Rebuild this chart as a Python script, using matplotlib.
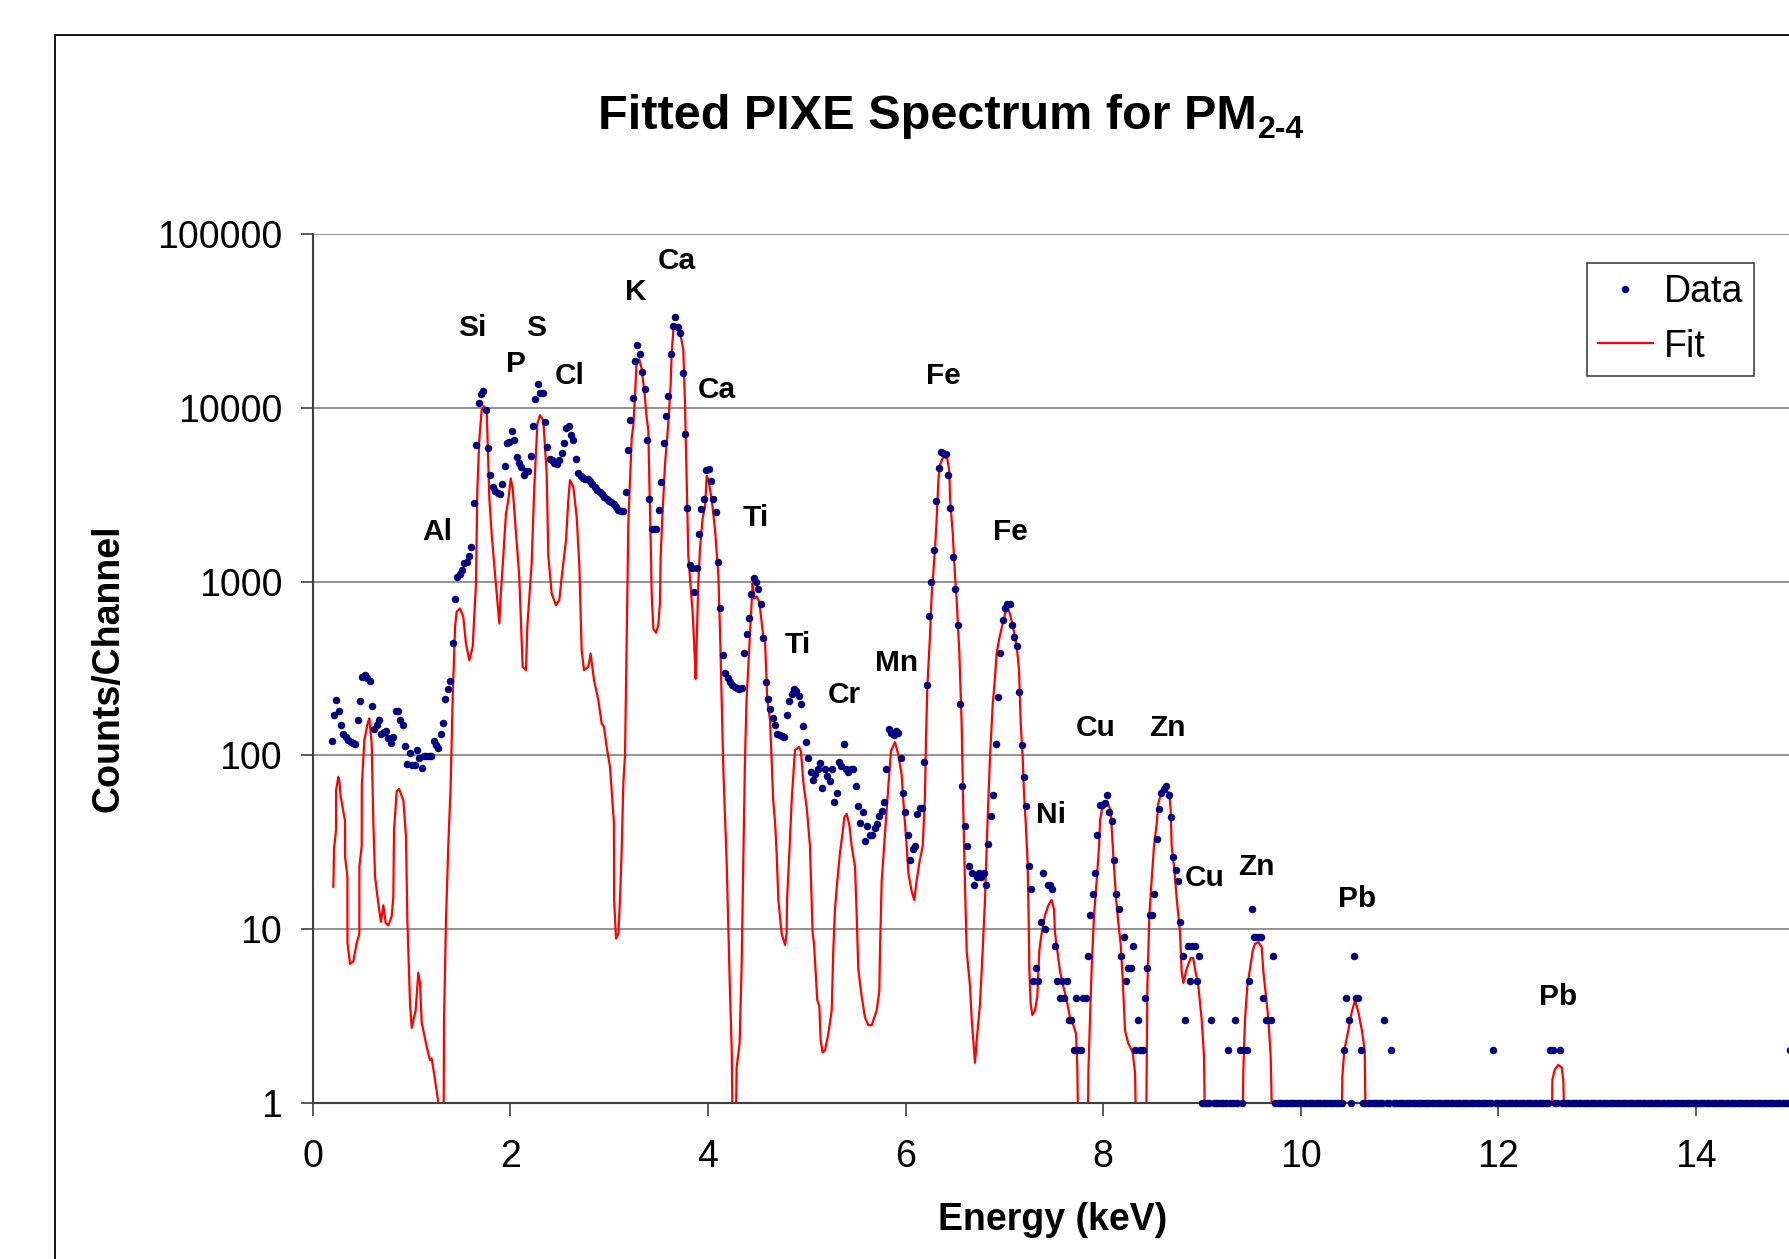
import numpy as np
import matplotlib
matplotlib.use("Agg")
import matplotlib.pyplot as plt
from matplotlib.ticker import FixedLocator, NullLocator, FuncFormatter
from matplotlib.lines import Line2D
from matplotlib.patches import Rectangle

plt.rcParams['font.family'] = ['Liberation Sans', 'DejaVu Sans']

# ---- measured spectrum (counts per channel), channel width in keV
channel_keV = 0.024

low_start = 0.19
low_counts = [121, 170, 209, 180, 150, 132, 128, 123, 120, 117,
              116, 159, 204, 282, 289, 279, 268, 191, 141, 150,
              159, 132, 137, 138, 125, 117, 128, 180, 179, 160,
              149, 113, 89, 103, 88, 88, 107, 97, 85, 99,
              99, 99, 99, 121, 115, 110, 132, 154, 210, 240,
              268, 440]

sicl_start = 1.438
sicl_counts = [793, 1055, 1100, 1161, 1270, 1298, 1400, 1570, 2840, 6100,
               10700, 12000, 12500, 9680, 5900, 4090, 3500, 3330, 3250, 3180,
               3630, 4630, 6280, 6370, 7360, 6560, 5220, 4800, 4570, 4090,
               4330, 4330, 5260, 7830, 11300, 13700, 12100, 12100, 8300, 5950,
               5100, 4990, 4820, 4730, 5030, 5500, 6310, 7600, 7840, 7000,
               6510, 5060]

cltail_start = 2.686
cltail_counts = [4190, 4050, 3960, 3900, 3870, 3800, 3650, 3510, 3380, 3280,
                 3170, 3080, 3000, 2910, 2850, 2790, 2670, 2580, 2530]

kcati_start = 3.142
kcati_counts = [2560, 3270, 5700, 8500, 11350, 18500, 23000, 20300, 16000, 12900,
                6500, 2990, 2000, 2000, 2000, 2570, 3720, 6300, 9000, 11700,
                20400, 29600, 33200, 29000, 27000, 15900, 7070, 2640, 1250, 1200,
                872, 1190, 1880, 2600, 2990, 4370, 4460, 3800, 3000, 2500,
                1300, 700, 377, 296, 280, 265, 255, 248, 244, 240,
                245, 387, 500, 620, 850, 1050, 1000, 900, 740, 470,
                263, 210, 185, 164, 150, 132, 130, 129, 128, 170,
                204, 225, 240, 235, 219, 196, 148, 120]

crmnfe_start = 5.014
crmnfe_counts = [97, 80, 72, 78, 83, 90, 65, 83, 76, 71,
                 83, 54, 61, 92, 87, 116, 83, 80, 83, 83,
                 67, 51, 41, 47, 32, 39, 35, 35, 38, 40,
                 45, 48, 54, 83, 141, 134, 130, 138, 134, 97,
                 61, 47, 35, 25, 29, 30, 46, 50, 50, 91,
                 253, 634, 1000, 1520, 2900, 4480, 5570, 5500, 5400, 4080,
                 2640, 1380, 900, 560, 197, 67, 39]

nicuzn_start = 6.622
nicuzn_counts = [30, 23, 21, 18, 20, 21, 20, 21, 18, 31,
                 45, 59, 116, 217, 390, 600, 700, 740, 740, 565,
                 480, 427, 231, 114, 75, 51, 23, 17, 5, 6,
                 5, 11, 21, 10, 18, 18, 17, 8, 5, 4,
                 5, 4, 5, 3, 3, 2, 4, 2, 2, 4,
                 4, 7, 12, 16, 21, 35, 52, 52, 53, 59,
                 47, 42, 25, 16, 13, 7, 9, 5, 6, 6,
                 8, 2, 3, 2, 2, 4, 6, 12, 12, 16,
                 33, 49, 61, 64, 67, 59, 44, 26, 22, 19,
                 11, 7, 3, 8, 5, 8, 8, 5, 7]

znkb_start = 8.998
znkb_counts = [1, 1, 1, 1, 3, 1, 1, 1, 1, 1,
               1, 2, 1, 1, 3, 1, 2, 1, 2, 2,
               5, 13, 9, 9, 9, 9, 4, 3, 3, 3,
               7]

gap_start = 9.742
gap_counts = [1, 1, 1, 1, 1, 1, 1, 1, 1, 1,
              1, 1, 1, 1, 1, 1, 1, 1, 1, 1,
              1, 1, 1, 1, 1, 1, 1, 1, 1]

pb_start = 10.438
pb_counts = [2, 4, 3, 1, 7, 4, 4, 2]

tail_start = 10.630
tail_counts = [1, 1, 1, 1, 1, 1, 1, 1, 1, 3, 1, 1, 2, 1, 1, 1, 1, 1, 1, 1,
               1, 1, 1, 1, 1, 1, 1, 1, 1, 1, 1, 1, 1, 1, 1, 1, 1, 1, 1, 1,
               1, 1, 1, 1, 1, 1, 1, 1, 1, 1, 1, 1, 1, 1, 1, 2, 1, 1, 1, 1,
               1, 1, 1, 1, 1, 1, 1, 1, 1, 1, 1, 1, 1, 1, 1, 1, 1, 1, 1, 2,
               2, 1, 1, 2, 1, 1, 1, 1, 1, 1, 1, 1, 1, 1, 1, 1, 1, 1, 1, 1,
               1, 1, 1, 1, 1, 1, 1, 1, 1, 1, 1, 1, 1, 1, 1, 1, 1, 1, 1, 1,
               1, 1, 1, 1, 1, 1, 1, 1, 1, 1, 1, 1, 1, 1, 1, 1, 1, 1, 1, 1,
               1, 1, 1, 1, 1, 1, 1, 1, 1, 1, 1, 1, 1, 1, 1, 1, 1, 1, 1, 1,
               1, 1, 1, 1, 1, 1, 1, 1, 1, 1, 1, 1, 1, 1, 1, 1, 1, 1, 1, 1,
               2, 1, 1, 1, 1, 1, 1, 1]

segments = [(low_start, low_counts), (sicl_start, sicl_counts),
            (cltail_start, cltail_counts), (kcati_start, kcati_counts),
            (crmnfe_start, crmnfe_counts), (nicuzn_start, nicuzn_counts),
            (znkb_start, znkb_counts), (gap_start, gap_counts),
            (pb_start, pb_counts), (tail_start, tail_counts)]

# ---- fitted spectrum (values below 1 fall under the axis)
fit_keV = [0.208, 0.215, 0.235, 0.236, 0.258, 0.270, 0.282, 0.326, 0.327, 0.350,
           0.351, 0.377, 0.410, 0.444, 0.471, 0.472, 0.495, 0.496, 0.522, 0.555,
           0.572, 0.596, 0.613, 0.630, 0.663, 0.690, 0.714, 0.738, 0.765, 0.798,
           0.815, 0.822, 0.849, 0.873, 0.917, 0.943, 0.957, 0.984, 1.001, 1.041,
           1.068, 1.085, 1.102, 1.153, 1.186, 1.203, 1.227, 1.271, 1.294, 1.321,
           1.328, 1.348, 1.372, 1.395, 1.416, 1.440, 1.456, 1.490, 1.523, 1.550,
           1.584, 1.618, 1.652, 1.665, 1.685, 1.709, 1.733, 1.760, 1.787, 1.810,
           1.844, 1.868, 1.888, 1.901, 1.928, 1.955, 1.979, 2.003, 2.023, 2.057,
           2.090, 2.124, 2.158, 2.171, 2.215, 2.242, 2.273, 2.300, 2.333, 2.367,
           2.384, 2.418, 2.461, 2.495, 2.519, 2.563, 2.586, 2.603, 2.637, 2.671,
           2.698, 2.721, 2.745, 2.789, 2.812, 2.846, 2.890, 2.924, 2.947, 2.974,
           3.008, 3.025, 3.035, 3.048, 3.050, 3.069, 3.093, 3.109, 3.126, 3.143,
           3.160, 3.168, 3.180, 3.194, 3.228, 3.244, 3.261, 3.278, 3.305, 3.329,
           3.356, 3.380, 3.396, 3.406, 3.420, 3.430, 3.447, 3.474, 3.497, 3.514,
           3.521, 3.541, 3.565, 3.599, 3.622, 3.632, 3.649, 3.676, 3.717, 3.750,
           3.767, 3.784, 3.801, 3.825, 3.845, 3.862, 3.875, 3.886, 3.902, 3.919,
           3.946, 3.970, 3.987, 4.004, 4.037, 4.071, 4.105, 4.122, 4.139, 4.156,
           4.190, 4.220, 4.240, 4.257, 4.273, 4.290, 4.320, 4.340, 4.357, 4.374,
           4.390, 4.425, 4.452, 4.466, 4.493, 4.520, 4.560, 4.577, 4.600, 4.628,
           4.660, 4.680, 4.695, 4.712, 4.746, 4.780, 4.796, 4.800, 4.824, 4.847,
           4.880, 4.921, 4.941, 4.965, 4.999, 5.032, 5.059, 5.073, 5.106, 5.127,
           5.140, 5.160, 5.184, 5.218, 5.252, 5.268, 5.285, 5.309, 5.336, 5.363,
           5.380, 5.403, 5.430, 5.454, 5.488, 5.505, 5.521, 5.555, 5.589, 5.623,
           5.657, 5.707, 5.734, 5.741, 5.758, 5.792, 5.825, 5.852, 5.893, 5.926,
           5.960, 5.984, 6.011, 6.028, 6.061, 6.088, 6.112, 6.139, 6.173, 6.196,
           6.206, 6.220, 6.247, 6.264, 6.298, 6.315, 6.332, 6.349, 6.382, 6.423,
           6.443, 6.450, 6.477, 6.500, 6.517, 6.534, 6.544, 6.567, 6.584, 6.600,
           6.618, 6.652, 6.669, 6.685, 6.702, 6.720, 6.753, 6.780, 6.804, 6.827,
           6.854, 6.881, 6.905, 6.922, 6.948, 6.972, 7.006, 7.030, 7.057, 7.090,
           7.124, 7.148, 7.165, 7.185, 7.198, 7.219, 7.235, 7.245, 7.252, 7.266,
           7.283, 7.310, 7.333, 7.353, 7.377, 7.411, 7.445, 7.478, 7.502, 7.512,
           7.536, 7.563, 7.596, 7.630, 7.664, 7.698, 7.725, 7.738, 7.755, 7.840,
           7.850, 7.866, 7.883, 7.907, 7.934, 7.958, 7.968, 7.985, 8.018, 8.052,
           8.076, 8.103, 8.130, 8.153, 8.177, 8.197, 8.221, 8.254, 8.298, 8.322,
           8.345, 8.430, 8.447, 8.467, 8.490, 8.514, 8.541, 8.558, 8.582, 8.625,
           8.669, 8.683, 8.693, 8.717, 8.744, 8.778, 8.794, 8.811, 8.845, 8.885,
           8.912, 8.929, 8.963, 8.997, 9.020, 9.040, 9.405, 9.418, 9.435, 9.459,
           9.486, 9.513, 9.536, 9.570, 9.604, 9.621, 9.648, 9.672, 9.695, 9.725,
           10.410, 10.420, 10.440, 10.480, 10.514, 10.549, 10.584, 10.619, 10.647, 10.664,
           12.535, 12.546, 12.570, 12.605, 12.640, 12.657, 12.685, 20.0]
fit_counts = [17.5, 29, 37, 63, 75, 70, 58, 42, 26, 20,
              8.3, 6.3, 6.5, 8.3, 9.4, 23, 30, 67, 122, 153,
              163, 117, 40.5, 20, 14, 11, 13.7, 10.8, 10.5, 11.8,
              15.3, 37, 62, 64, 55, 34, 11.3, 3.7, 2.7, 3.4,
              5.6, 4.9, 2.9, 2.1, 1.76, 1.8, 1.48, 1.0, 0.3, 0.3,
              2.9, 11.3, 31, 66, 217, 550, 670, 700, 627, 440,
              352, 420, 975, 3350, 6500, 9680, 10200, 9700, 3000, 1890,
              1110, 780, 574, 817, 1390, 2460, 2940, 3920, 3430, 1890,
              1060, 323, 309, 550, 1270, 3510, 8100, 9060, 8470, 4190,
              1390, 853, 731, 781, 1060, 1730, 2940, 3830, 3510, 2350,
              1220, 403, 309, 323, 385, 271, 208, 152, 146, 112,
              86, 63, 53, 40.6, 14.7, 8.8, 9.4, 14.7, 28, 69,
              100, 208, 600, 2200, 6730, 7840, 11750, 18500, 19000, 16700,
              12400, 8670, 7450, 3850, 1710, 841, 533, 507, 561, 760,
              1400, 2570, 4720, 8240, 13700, 20500, 27800, 30000, 27100, 21600,
              10600, 3850, 1400, 931, 653, 414, 276, 458, 979, 1550,
              2320, 2700, 4060, 3850, 2990, 1990, 1084, 507, 200, 80,
              23, 4.9, 2.0, 0.3, 0.3, 1.6, 2.2, 6, 23, 94,
              208, 507, 980, 800, 820, 760, 482, 458, 210, 159,
              55, 40, 27, 14.7, 9.4, 8.1, 9.4, 14.7, 28, 55,
              107, 112, 105, 70, 50, 30, 9.5, 8.2, 3.9, 3.6,
              2.3, 1.95, 2.0, 2.5, 3.4, 7.5, 13, 19, 27.5, 36,
              44, 46, 40, 30, 23, 12, 5.9, 4.1, 3.1, 2.8,
              2.8, 3.4, 4.4, 7.5, 19, 36, 66, 106, 119, 101,
              77, 48, 30, 21, 16.5, 14.7, 19, 24, 30, 58,
              122, 245, 491, 841, 1550, 2320, 3860, 4720, 5220, 5090,
              4270, 2990, 1900, 1085, 782, 507, 389, 154, 48, 19,
              7.5, 4.7, 3.0, 2.3, 1.7, 2.3, 3.7, 7.5, 15, 38,
              97, 194, 281, 389, 469, 540, 649, 713, 649, 540,
              428, 309, 154, 97, 61, 38, 24, 12, 5.9, 3.7,
              3.2, 3.4, 4.1, 7.5, 9.5, 12, 13.7, 14.7, 13, 9.5,
              7.5, 5.7, 4.7, 3.9, 3.1, 2.8, 2.5, 1.6, 0.3, 0.3,
              1.5, 3, 5.9, 12, 19, 30, 42, 48, 53, 52,
              48, 26, 15, 10.9, 8.2, 5.2, 2.6, 2.2, 1.95, 1.5,
              0.3, 0.3, 4.7, 12, 19, 30, 40, 53, 59, 62,
              61, 48, 30, 23, 15, 9.5, 5.7, 4.9, 5.9, 6.8,
              6.8, 5.9, 4.7, 3.0, 1.86, 0.3, 0.3, 1.5, 3.0, 4.7,
              5.9, 7.5, 8.2, 8.4, 7.9, 5.7, 4.1, 3.0, 1.86, 0.3,
              0.3, 1.4, 2.0, 2.6, 3.3, 3.9, 3.3, 2.6, 2.0, 0.3,
              0.3, 1.35, 1.55, 1.65, 1.6, 1.35, 0.3, 0.3]

peak_names = ['Al', 'Si', 'P', 'S', 'Cl', 'K', 'Ca', 'Ca', 'Ti', 'Ti', 'Cr',
              'Mn', 'Fe', 'Fe', 'Ni', 'Cu', 'Zn', 'Cu', 'Zn', 'Pb', 'Pb']
peak_label_keV = [1.264, 1.617, 2.055, 2.263, 2.598, 3.268, 3.684, 4.088, 4.48,
                  4.91, 5.381, 5.912, 6.386, 7.06, 7.47, 7.92, 8.65, 9.03, 9.55,
                  10.57, 12.6]
peak_label_counts = [1928, 28900, 17800, 28900, 15300, 46200, 69500, 12600, 2310,
                     431, 222, 338, 15300, 1928, 45.3, 143, 143, 19.7, 22.9,
                     14.8, 4.08]

W, H = 1790, 1259
fig = plt.figure(figsize=(W / 100, H / 100), dpi=100)
ax = fig.add_axes([312.8 / W, 156.2 / H, 1976 / W, 868.8 / H])

# chart-area border (runs off the right and bottom of the picture)
fig.patches.append(Rectangle((55 / W, -0.2), 1.2, 1.2 - 34.5 / H,
                             transform=fig.transFigure, fill=False,
                             edgecolor='#000000', linewidth=1.3))

ax.plot(fit_keV, fit_counts, color='#ff0000', lw=1.6, zorder=2)
for start, counts in segments:
    e = start + channel_keV * np.arange(len(counts))
    ax.plot(e, counts, ls='none', marker='o', ms=5.4, mew=0,
            color='#000080', zorder=3, clip_on=False)

ax.set_yscale('log')
ax.set_ylim(1, 100000)
ax.set_xlim(0, 20)
ax.yaxis.set_major_locator(FixedLocator([1, 10, 100, 1000, 10000, 100000]))
ax.yaxis.set_minor_locator(NullLocator())
ax.yaxis.set_major_formatter(FuncFormatter(lambda v, p: f"{v:.0f}"))
ax.xaxis.set_major_locator(FixedLocator(range(0, 15, 2)))
ax.xaxis.set_minor_locator(NullLocator())
ax.xaxis.set_major_formatter(FuncFormatter(lambda v, p: f"{v:.0f}"))
ax.yaxis.grid(True, color='#808080', lw=1.2)
ax.set_axisbelow(True)
for s in ['top', 'right']:
    ax.spines[s].set_visible(False)
for s in ['left', 'bottom']:
    ax.spines[s].set_color('#404040')
    ax.spines[s].set_linewidth(1.5)
ax.tick_params(axis='both', direction='out', length=9, width=1.2,
               color='#404040', labelsize=27)
ax.tick_params(axis='y', pad=13)
ax.tick_params(axis='x', pad=17)

for name, e, c in zip(peak_names, peak_label_keV, peak_label_counts):
    ax.text(e, c, name, fontsize=21.5, fontweight='bold',
            ha='center', va='center')

handles = [Line2D([], [], ls='none', marker='o', ms=5.4, mew=0, color='#000080'),
           Line2D([], [], color='#ff0000', lw=1.6)]
leg = fig.legend(handles, ['Data', 'Fit'], loc='upper left',
                 bbox_to_anchor=(1587 / W, 1 - 262.6 / H), borderaxespad=0,
                 fontsize=27, frameon=True, fancybox=False, edgecolor='#000000',
                 handlelength=1.45, handletextpad=0.3, labelspacing=0.5,
                 borderpad=0.3)
leg.get_frame().set_linewidth(1.1)

fig.text(109 / W, 1 - 668 / H, 'Counts/Channel', rotation=90, fontsize=27,
         fontweight='bold', ha='center', va='center')
fig.text(1052.5 / W, 1 - 1220.4 / H, 'Energy (keV)', fontsize=27,
         fontweight='bold', ha='center', va='center')

title = fig.text(598 / W, 1 - 129 / H, 'Fitted PIXE Spectrum for PM',
                 fontsize=35, fontweight='bold', ha='left', va='baseline')
renderer = fig.canvas.get_renderer()
bb = title.get_window_extent(renderer)
fig.text(bb.x1 / W + 1.5 / W, 1 - 138 / H, '2-4', fontsize=23,
         fontweight='bold', ha='left', va='baseline')

fig.savefig('out.png', dpi=100)
